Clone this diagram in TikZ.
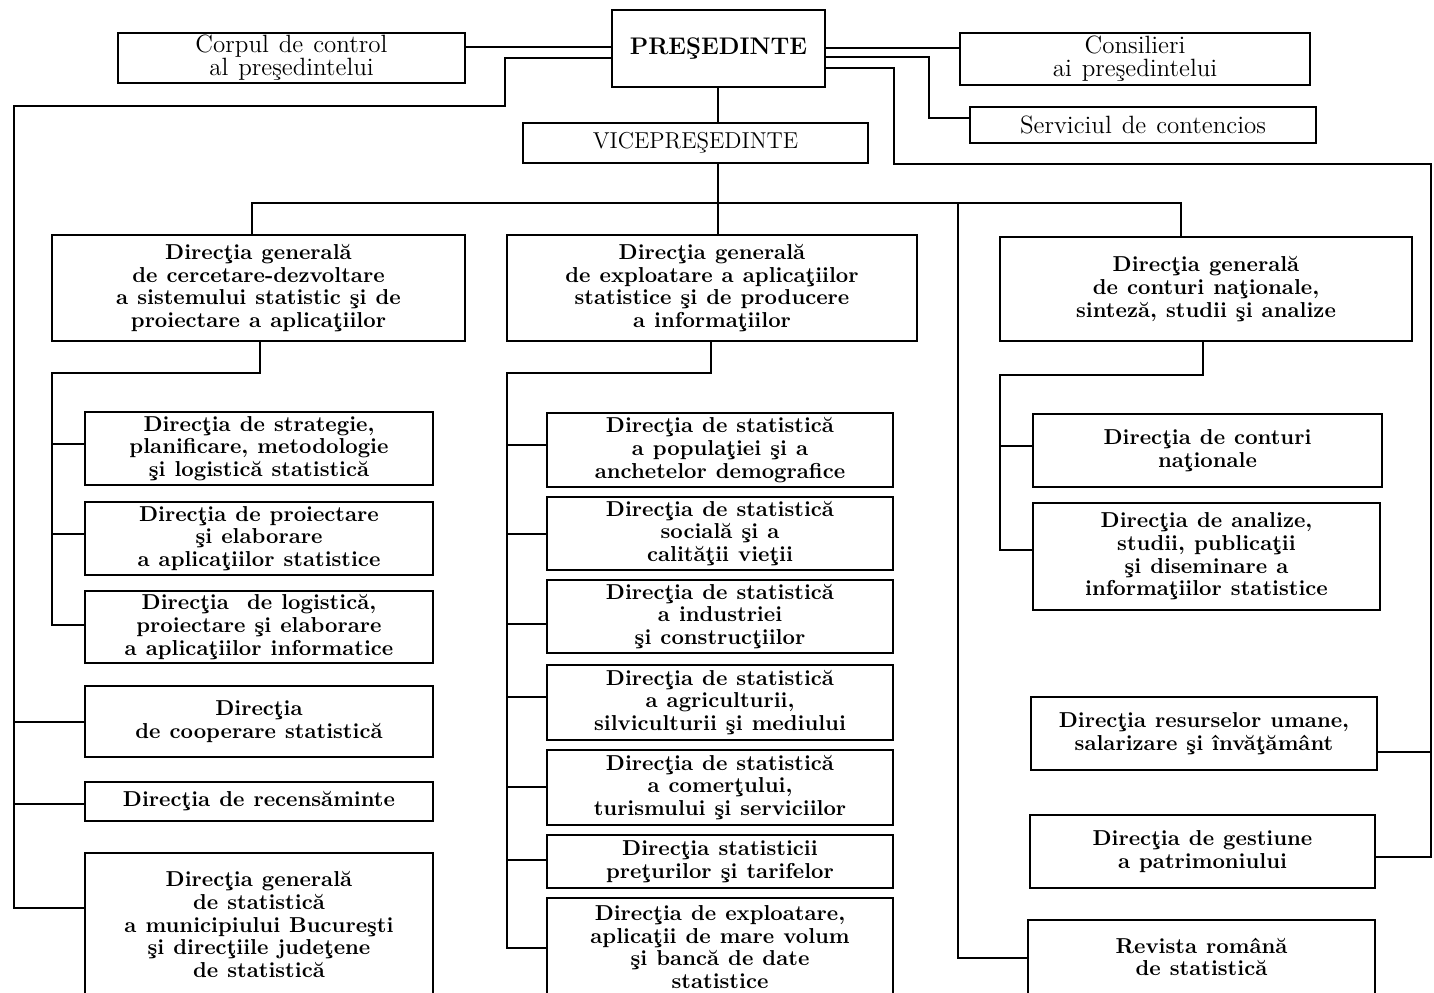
\documentclass[tikz,border=0pt]{standalone}
\usepackage{fontspec}
\newcommand\bxfont{\fontsize{10.8}{11.3}\selectfont\bfseries\spaceskip=0.42em plus 0.1em}
\newcommand\rgfont{\fontsize{12.5}{11.6}\selectfont\spaceskip=0.4em plus 0.1em}
\tikzset{
  bx/.style={draw, line width=1.4pt, inner sep=0pt, align=center, font=\bxfont},
  rg/.style={draw, line width=1.4pt, inner sep=0pt, align=center, font=\rgfont},
  ln/.style={line width=1.4pt, line join=miter},
  area/.style n args={4}{minimum width={(#3-#1)*0.5pt}, minimum height={(#4-#2)*0.5pt},
     at={({(#1+#3)/2},{(#2+#4)/2})}},
}
\begin{document}
\begin{tikzpicture}[x=0.5pt, y=-0.5pt]
\useasboundingbox (0,0) rectangle (1434,992);
\clip (0,0) rectangle (1434,992);
\fill[white] (0,0) rectangle (1434,992);

% top level
\node[rg, area={118}{33}{465}{83}] (corp) {Corpul de control\\al preşedintelui};
\node[bx, font=\fontsize{12}{14}\selectfont\bfseries, area={612}{10}{825}{87}] (pres) {PREŞEDINTE};
\node[rg, area={960}{33}{1310}{85}] (cons) {Consilieri\\ai preşedintelui};
\node[rg, area={970}{107}{1316}{143}] (serv) {Serviciul de contencios};
\node[rg, font=\fontsize{11.5}{13}\selectfont, area={523}{123}{868}{163}] (vice) {VICEPREŞEDINTE};

% general directorates
\node[bx, area={52}{235}{465}{341}] (dg1) {Direcţia generală\\de cercetare-dezvoltare\\a sistemului statistic şi de\\proiectare a aplicaţiilor};
\node[bx, area={507}{235}{917}{341}] (dg2) {Direcţia generală\\de exploatare a aplicaţiilor\\statistice şi de producere\\a informaţiilor};
\node[bx, area={1000}{237}{1412}{341}] (dg3) {Direcţia generală\\de conturi naţionale,\\sinteză, studii şi analize};

% left column
\node[bx, area={85}{412}{433}{485}] (s1) {Direcţia de strategie,\\planificare, metodologie\\şi logistică statistică};
\node[bx, area={85}{502}{433}{575}] (s2) {Direcţia de proiectare\\şi elaborare\\a aplicaţiilor statistice};
\node[bx, area={85}{591}{433}{663}] (s3) {Direcţia \ de logistică,\\proiectare şi elaborare\\a aplicaţiilor informatice};
\node[bx, area={85}{686}{433}{757}] (coop) {Direcţia\\de cooperare statistică};
\node[bx, area={85}{782}{433}{821}] (rec) {Direcţia de recensăminte};
\node[bx, area={85}{853}{433}{996}] (gen) {Direcţia generală\\de statistică\\a municipiului Bucureşti\\şi direcţiile judeţene\\de statistică};

% middle column
\node[bx, area={547}{413}{893}{487}] (m1) {Direcţia de statistică\\a populaţiei şi a\\anchetelor demografice};
\node[bx, area={547}{497}{893}{570}] (m2) {Direcţia de statistică\\socială şi a\\calităţii vieţii};
\node[bx, area={547}{580}{893}{653}] (m3) {Direcţia de statistică\\a industriei\\şi construcţiilor};
\node[bx, area={547}{665}{893}{740}] (m4) {Direcţia de statistică\\a agriculturii,\\silviculturii şi mediului};
\node[bx, area={547}{750}{893}{825}] (m5) {Direcţia de statistică\\a comerţului,\\turismului şi serviciilor};
\node[bx, area={547}{835}{893}{888}] (m6) {Direcţia statisticii\\preţurilor şi tarifelor};
\node[bx, area={547}{898}{893}{996}] (m7) {Direcţia de exploatare,\\aplicaţii de mare volum\\şi bancă de date\\statistice};

% right column
\node[bx, area={1033}{414}{1382}{487}] (r1) {Direcţia de conturi\\naţionale};
\node[bx, area={1033}{503}{1380}{610}] (r2) {Direcţia de analize,\\studii, publicaţii\\şi diseminare a\\informaţiilor statistice};
\node[bx, area={1031}{697}{1377}{770}] (r3) {Direcţia resurselor umane,\\salarizare şi învăţământ};
\node[bx, area={1030}{815}{1375}{888}] (r4) {Direcţia de gestiune\\a patrimoniului};
\node[bx, area={1028}{920}{1375}{994}] (r5) {Revista română\\de statistică};

% connectors: top
\draw[ln] (corp.east |- 0,47) -- (pres.west |- 0,47);
\draw[ln] (pres.west |- 0,58) -| (505,106) -- (14,106) -- (14,908) -- (gen.west |- 0,908);
\draw[ln] (14,722) -- (coop.west |- 0,722);
\draw[ln] (14,804) -- (rec.west |- 0,804);
\draw[ln] (pres.east |- 0,48) -- (cons.west |- 0,48);
\draw[ln] (pres.east |- 0,57) -| (929,118) -- (serv.west |- 0,118);
\draw[ln] (pres.east |- 0,68) -| (894,164) -- (1431,164) -- (1431,857) -- (r4.east |- 0,857);
\draw[ln] (1431,752) -- (r3.east |- 0,752);
\draw[ln] (pres.south -| 718,0) -- (vice.north -| 718,0);

% vice to general directorates
\draw[ln] (vice.south -| 718,0) -- (718,203);
\draw[ln] (dg1.north -| 252,0) -- (252,203) -- (1181,203) -- (dg3.north -| 1181,0);
\draw[ln] (718,203) -- (dg2.north -| 718,0);
\draw[ln] (958,203) -- (958,958) -- (r5.west |- 0,958);

% DG1 subtree
\draw[ln] (dg1.south -| 260,0) -- (260,373) -- (52,373) -- (52,625) -- (s3.west |- 0,625);
\draw[ln] (52,444) -- (s1.west |- 0,444);
\draw[ln] (52,534) -- (s2.west |- 0,534);

% DG2 subtree
\draw[ln] (dg2.south -| 711,0) -- (711,373) -- (507,373) -- (507,948) -- (m7.west |- 0,948);
\draw[ln] (507,445) -- (m1.west |- 0,445);
\draw[ln] (507,534) -- (m2.west |- 0,534);
\draw[ln] (507,624) -- (m3.west |- 0,624);
\draw[ln] (507,697) -- (m4.west |- 0,697);
\draw[ln] (507,787) -- (m5.west |- 0,787);
\draw[ln] (507,860) -- (m6.west |- 0,860);

% DG3 subtree
\draw[ln] (dg3.south -| 1203,0) -- (1203,375) -- (1000,375) -- (1000,550) -- (r2.west |- 0,550);
\draw[ln] (1000,446) -- (r1.west |- 0,446);
\end{tikzpicture}
\end{document}
